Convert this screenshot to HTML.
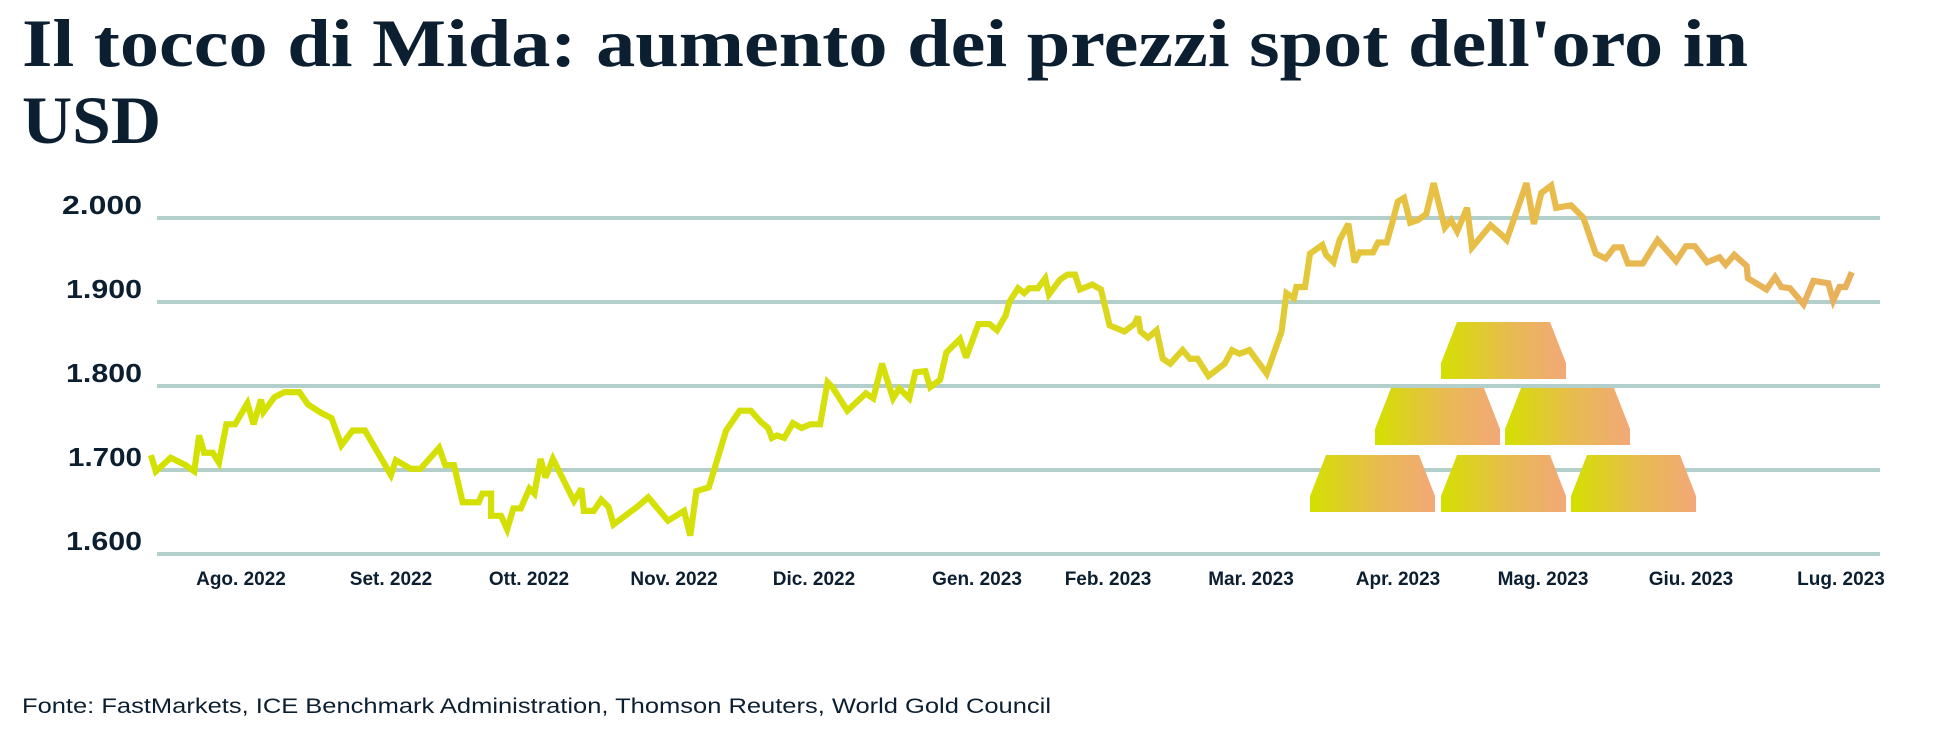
<!DOCTYPE html>
<html><head><meta charset="utf-8"><style>
html,body{margin:0;padding:0;background:#fff;}
svg{display:block;}
</style></head><body>
<svg width="1940" height="755" viewBox="0 0 1940 755" xmlns="http://www.w3.org/2000/svg">
<defs>
<linearGradient id="lg" gradientUnits="userSpaceOnUse" x1="122" y1="0" x2="1497" y2="0">
<stop offset="0" stop-color="#d3e100"/>
<stop offset="0.5" stop-color="#d6df0c"/>
<stop offset="0.62" stop-color="#e0cf2c"/>
<stop offset="0.75" stop-color="#e7c044"/>
<stop offset="1" stop-color="#e9b05c"/>
</linearGradient>
<linearGradient id="bg" x1="0" y1="0" x2="1" y2="0">
<stop offset="0" stop-color="#d4e000"/>
<stop offset="0.55" stop-color="#e8bb50"/>
<stop offset="1" stop-color="#f2a878"/>
</linearGradient>
<path id="bar" d="M16,0 L109,0 L125,41 L125,57 L0,57 L0,41 Z"/>
</defs>
<text x="22" y="66" font-family="Liberation Serif, serif" font-weight="bold" font-size="68" fill="#0b1f31" textLength="1726" lengthAdjust="spacingAndGlyphs">Il tocco di Mida: aumento dei prezzi spot dell'oro in</text>
<text x="22" y="143" font-family="Liberation Serif, serif" font-weight="bold" font-size="68" fill="#0b1f31" textLength="139" lengthAdjust="spacingAndGlyphs">USD</text>

<g stroke="#b3cfcc" stroke-width="4">
<line x1="157" y1="218" x2="1880" y2="218"/>
<line x1="157" y1="302" x2="1880" y2="302"/>
<line x1="157" y1="386" x2="1880" y2="386"/>
<line x1="157" y1="470" x2="1880" y2="470"/>
<line x1="157" y1="554" x2="1880" y2="554"/>
</g>
<g font-family="Liberation Sans, sans-serif" font-weight="bold" font-size="26" fill="#0b1f31" text-anchor="end">
<text x="142" y="214" textLength="80" lengthAdjust="spacingAndGlyphs">2.000</text>
<text x="142" y="298" textLength="76" lengthAdjust="spacingAndGlyphs">1.900</text>
<text x="142" y="382" textLength="76" lengthAdjust="spacingAndGlyphs">1.800</text>
<text x="142" y="466" textLength="74" lengthAdjust="spacingAndGlyphs">1.700</text>
<text x="142" y="550" textLength="76" lengthAdjust="spacingAndGlyphs">1.600</text>
</g>
<g font-family="Liberation Sans, sans-serif" font-weight="bold" font-size="19" fill="#0b1f31" text-anchor="middle">
<text x="241" y="585">Ago. 2022</text>
<text x="391" y="585">Set. 2022</text>
<text x="529" y="585">Ott. 2022</text>
<text x="674" y="585">Nov. 2022</text>
<text x="814" y="585">Dic. 2022</text>
<text x="977" y="585">Gen. 2023</text>
<text x="1108" y="585">Feb. 2023</text>
<text x="1251" y="585">Mar. 2023</text>
<text x="1398" y="585">Apr. 2023</text>
<text x="1543" y="585">Mag. 2023</text>
<text x="1691" y="585">Giu. 2023</text>
<text x="1841" y="585">Lug. 2023</text>
</g>

<g fill="url(#bg)">
<use href="#bar" transform="translate(1441,322)"/>
<use href="#bar" transform="translate(1375,388)"/>
<use href="#bar" transform="translate(1505,388)"/>
<use href="#bar" transform="translate(1310,455)"/>
<use href="#bar" transform="translate(1441,455)"/>
<use href="#bar" transform="translate(1571,455)"/>
</g>

<g transform="scale(1.237)">
<polyline fill="none" stroke="url(#lg)" stroke-width="5" stroke-linejoin="miter" stroke-miterlimit="3" points="122,368 126,381 138,370 150,376 157,381 161,352 165,366 172,366 177,374 183,343 190,343 200,326 205,343 211,323 213,333 222,321 230,317 242,317 249,327 260,334 268,338 276,360 285,348 295,348 316,384 320,372 332,379 340,379 355,362 360,376 367,376 374,406 387,406 390,399 397,399 397,417 405,417 410,428 415,411 421,411 428,395 432,399 437,371 441,386 447,371 464,405 470,395 472,413 480,413 486,404 492,410 496,424 516,409 524,402 540,421 553,413 558,433 563,397 573,394 587,348 598,332 607,332 615,341 621,346 624,354 628,352 634,354 641,342 648,346 655,343 663,343 669,309 673,313 685,332 700,318 706,322 713,294 722,322 727,314 735,322 740,301 748,300 752,313 760,307 765,285 776,274 781,289 791,262 800,262 806,267 813,255 816,244 823,233 828,237 832,233 839,233 845,225 848,238 857,226 863,222 869,222 873,234 883,230 890,234 897,263 909,268 917,262 920,256 922,268 928,273 935,267 940,290 946,294 956,283 962,290 968,290 977,304 990,294 996,283 1002,286 1010,283 1024,302 1036,268 1040,237 1046,241 1048,232 1055,232 1059,205 1069,198 1072,206 1078,212 1083,194 1090,181 1095,212 1099,204 1110,204 1114,196 1121,196 1125,182 1130,163 1135,160 1140,180 1146,178 1153,173 1159,148 1168,184 1173,178 1178,187 1186,168 1190,200 1205,182 1214,190 1218,194 1234,148 1240,181 1246,156 1254,150 1258,168 1270,166 1280,176 1290,205 1298,209 1305,200 1311,200 1316,213 1328,213 1340,194 1355,211 1363,199 1370,199 1380,212 1390,208 1395,214 1402,206 1412,215 1413,225 1428,234 1435,224 1440,232 1447,233 1458,246 1466,227 1478,229 1482,243 1487,232 1492,232 1497,220"/>
</g>

<text x="22" y="713" font-family="Liberation Sans, sans-serif" font-size="21" fill="#0b1f31" textLength="1029" lengthAdjust="spacingAndGlyphs">Fonte: FastMarkets, ICE Benchmark Administration, Thomson Reuters, World Gold Council</text>
</svg>
</body></html>
